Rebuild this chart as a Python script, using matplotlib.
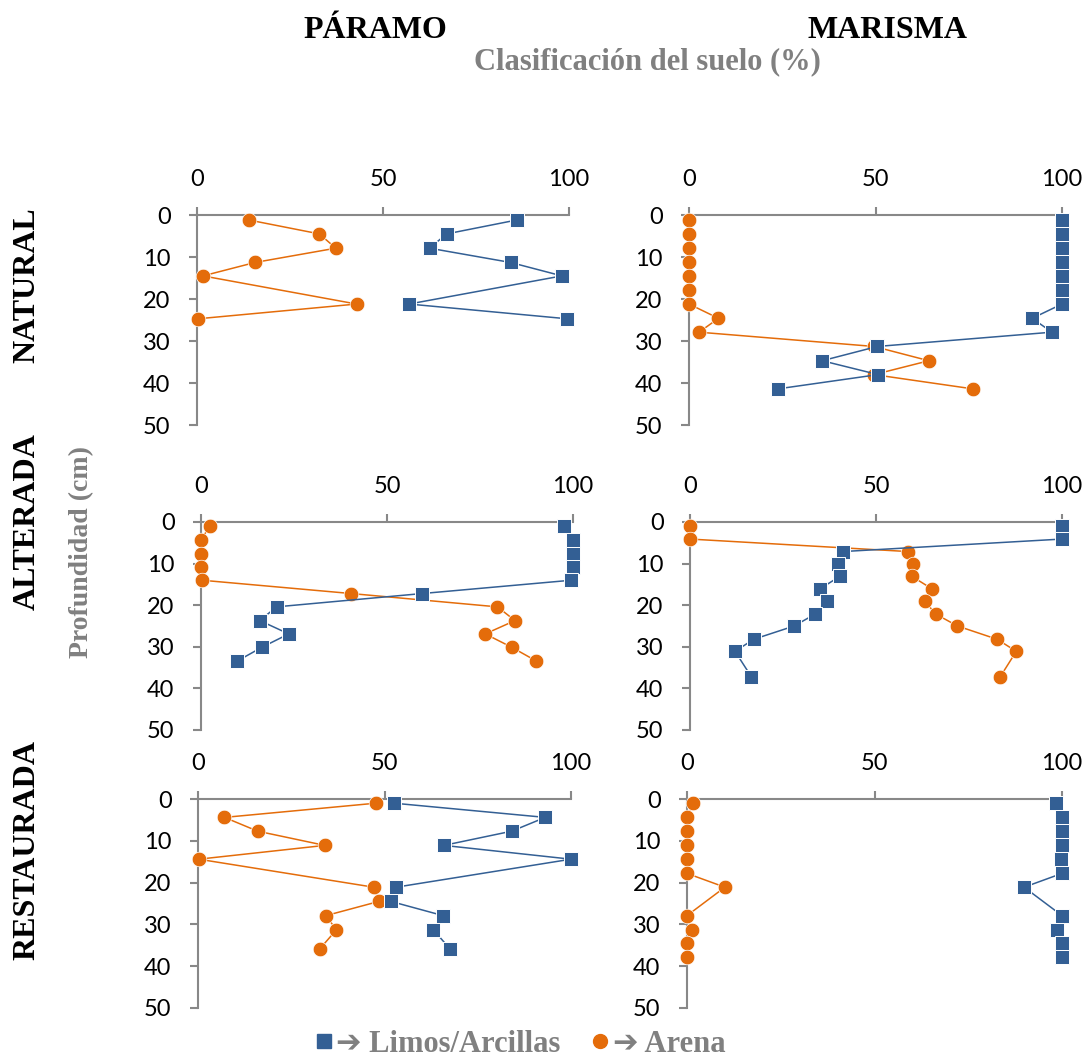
import matplotlib
matplotlib.use('Agg')
import matplotlib.pyplot as plt
from matplotlib.lines import Line2D

# --- data (depth in cm, fraction in %) ---
sites = ['PÁRAMO', 'MARISMA']
states = ['NATURAL', 'ALTERADA', 'RESTAURADA']

paramo_natural_depth = [1.2, 4.5, 7.9, 11.3, 14.5, 21.2, 24.7]
paramo_natural_arena = [14.0, 32.9, 37.3, 15.6, 1.6, 42.9, 0.4]
paramo_natural_limos = [85.9, 67.1, 62.5, 84.3, 98.1, 57.0, 99.4]

marisma_natural_depth = [1.1, 4.5, 7.8, 11.2, 14.5, 17.9, 21.2, 24.6, 27.9, 31.3, 34.7, 38.0, 41.4]
marisma_natural_arena = [0, 0, 0, 0, 0, 0, 0, 7.9, 2.7, 49.6, 64.3, 49.6, 76.1]
marisma_natural_limos = [100, 100, 100, 100, 100, 100, 100, 92.0, 97.3, 50.5, 35.7, 50.7, 23.8]

paramo_alterada_depth = [1.0, 4.4, 7.6, 10.8, 14.0, 17.2, 20.4, 23.7, 26.9, 30.1, 33.4]
paramo_alterada_arena = [2.3, 0, 0, 0, 0.3, 40.4, 79.7, 84.4, 76.4, 83.5, 90.1]
paramo_alterada_limos = [97.5, 100, 100, 100, 99.5, 59.4, 20.3, 15.8, 23.6, 16.4, 9.8]

marisma_alterada_depth = [1.0, 4.1, 7.1, 10.1, 13.1, 16.1, 19.0, 22.1, 25.0, 28.2, 31.1, 37.2]
marisma_alterada_arena = [0, 0, 58.5, 59.9, 59.7, 65.1, 63.1, 66.0, 71.9, 82.6, 87.7, 83.4]
marisma_alterada_limos = [100, 100, 41.2, 39.9, 40.2, 34.9, 36.8, 33.7, 28.0, 17.1, 12.1, 16.5]

paramo_restaurada_depth = [1.0, 4.4, 7.7, 11.1, 14.4, 21.1, 24.5, 27.9, 31.3, 35.8]
paramo_restaurada_arena = [47.7, 7.1, 16.0, 34.0, 0.2, 47.1, 48.5, 34.3, 37.1, 32.7]
paramo_restaurada_limos = [52.5, 93.1, 84.1, 65.9, 100, 53.1, 51.7, 65.7, 63.1, 67.5]

marisma_restaurada_depth = [1.0, 4.4, 7.7, 11.1, 14.4, 17.8, 21.1, 27.9, 31.3, 34.5, 37.9]
marisma_restaurada_arena = [1.5, 0, 0, 0, 0, 0, 10.1, 0, 1.2, 0, 0]
marisma_restaurada_limos = [98.4, 100, 100, 100, 99.6, 100, 89.9, 100, 98.7, 100, 100]

x_ticks = [0, 50, 100]
y_ticks = [0, 10, 20, 30, 40, 50]

panels = [
    (paramo_natural_depth, paramo_natural_arena, paramo_natural_limos),
    (marisma_natural_depth, marisma_natural_arena, marisma_natural_limos),
    (paramo_alterada_depth, paramo_alterada_arena, paramo_alterada_limos),
    (marisma_alterada_depth, marisma_alterada_arena, marisma_alterada_limos),
    (paramo_restaurada_depth, paramo_restaurada_arena, paramo_restaurada_limos),
    (marisma_restaurada_depth, marisma_restaurada_arena, marisma_restaurada_limos),
]

# axes boxes in pixels: left, right, top, bottom
boxes = [
    (197, 569, 215, 425), (689, 1062, 215, 425),
    (201, 573, 522, 730), (690, 1062, 522, 730),
    (198, 571, 799, 1008), (687, 1062, 799, 1008),
]

BLUE = '#335F94'
ORANGE = '#E46C0A'
AXIS_GRAY = '#888888'
TEXT_GRAY = '#808080'
W, H = 1084, 1057

fig = plt.figure(figsize=(W / 100, H / 100), dpi=100)

for (depth, arena, limos), (l, r, t, b) in zip(panels, boxes):
    ax = fig.add_axes([l / W, 1 - b / H, (r - l) / W, (b - t) / H])
    ax.plot(arena, depth, color=ORANGE, lw=1.1, marker='o', ms=10.5, mec='white',
            mew=0.5, clip_on=False, zorder=3)
    ax.plot(limos, depth, color=BLUE, lw=1.1, marker='s', ms=10, mec='white',
            mew=0.7, clip_on=False, zorder=4)
    ax.set_xlim(0, 100)
    ax.set_ylim(50, 0)
    ax.set_xticks(x_ticks)
    ax.set_yticks(y_ticks)
    ax.xaxis.tick_top()
    for side in ['right', 'bottom']:
        ax.spines[side].set_visible(False)
    for side in ['left', 'top']:
        ax.spines[side].set_color(AXIS_GRAY)
        ax.spines[side].set_linewidth(1.5)
    ax.tick_params(axis='x', direction='out', length=6, width=1.5, color=AXIS_GRAY,
                   pad=12, labelsize=17)
    ax.tick_params(axis='y', direction='out', length=6, width=1.5, color=AXIS_GRAY,
                   pad=13, labelsize=17)
    for lab in ax.get_xticklabels() + ax.get_yticklabels():
        lab.set_fontfamily('Lato')
    ax.patch.set_alpha(0)

serif = 'Liberation Serif'

# column titles
fig.text(375 / W, 1 - 31 / H, sites[0], ha='center', va='center', fontsize=23,
         fontweight='bold', family=serif)
fig.text(887 / W, 1 - 31 / H, sites[1], ha='center', va='center', fontsize=23,
         fontweight='bold', family=serif)
fig.text(647 / W, 1 - 62 / H, 'Clasificación del suelo (%)', ha='center', va='center',
         fontsize=22, fontweight='bold', family=serif, color=TEXT_GRAY)

# row labels
row_y = [285, 522, 850]
for name, yy in zip(states, row_y):
    fig.text(27 / W, 1 - yy / H, name, ha='center', va='center', rotation=90,
             fontsize=23, fontweight='bold', family=serif)

fig.text(82 / W, 1 - 552 / H, 'Profundidad (cm)', ha='center', va='center', rotation=90,
         fontsize=20, fontweight='bold', family=serif, color=TEXT_GRAY)

# legend
handles = [
    Line2D([], [], color=BLUE, marker='s', ls='none', ms=10),
    Line2D([], [], color=ORANGE, marker='o', ls='none', ms=10),
]
leg = fig.legend(handles, ['➔ Limos/Arcillas', '➔ Arena'], loc='center',
                 bbox_to_anchor=(520 / W, 1 - 1044 / H), ncol=2, frameon=False,
                 handlelength=0.6, handletextpad=0.1, columnspacing=1.0,
                 prop={'family': [serif, 'DejaVu Sans'], 'weight': 'bold', 'size': 22})
for txt in leg.get_texts():
    txt.set_color(TEXT_GRAY)

fig.savefig('out.png', dpi=100)
